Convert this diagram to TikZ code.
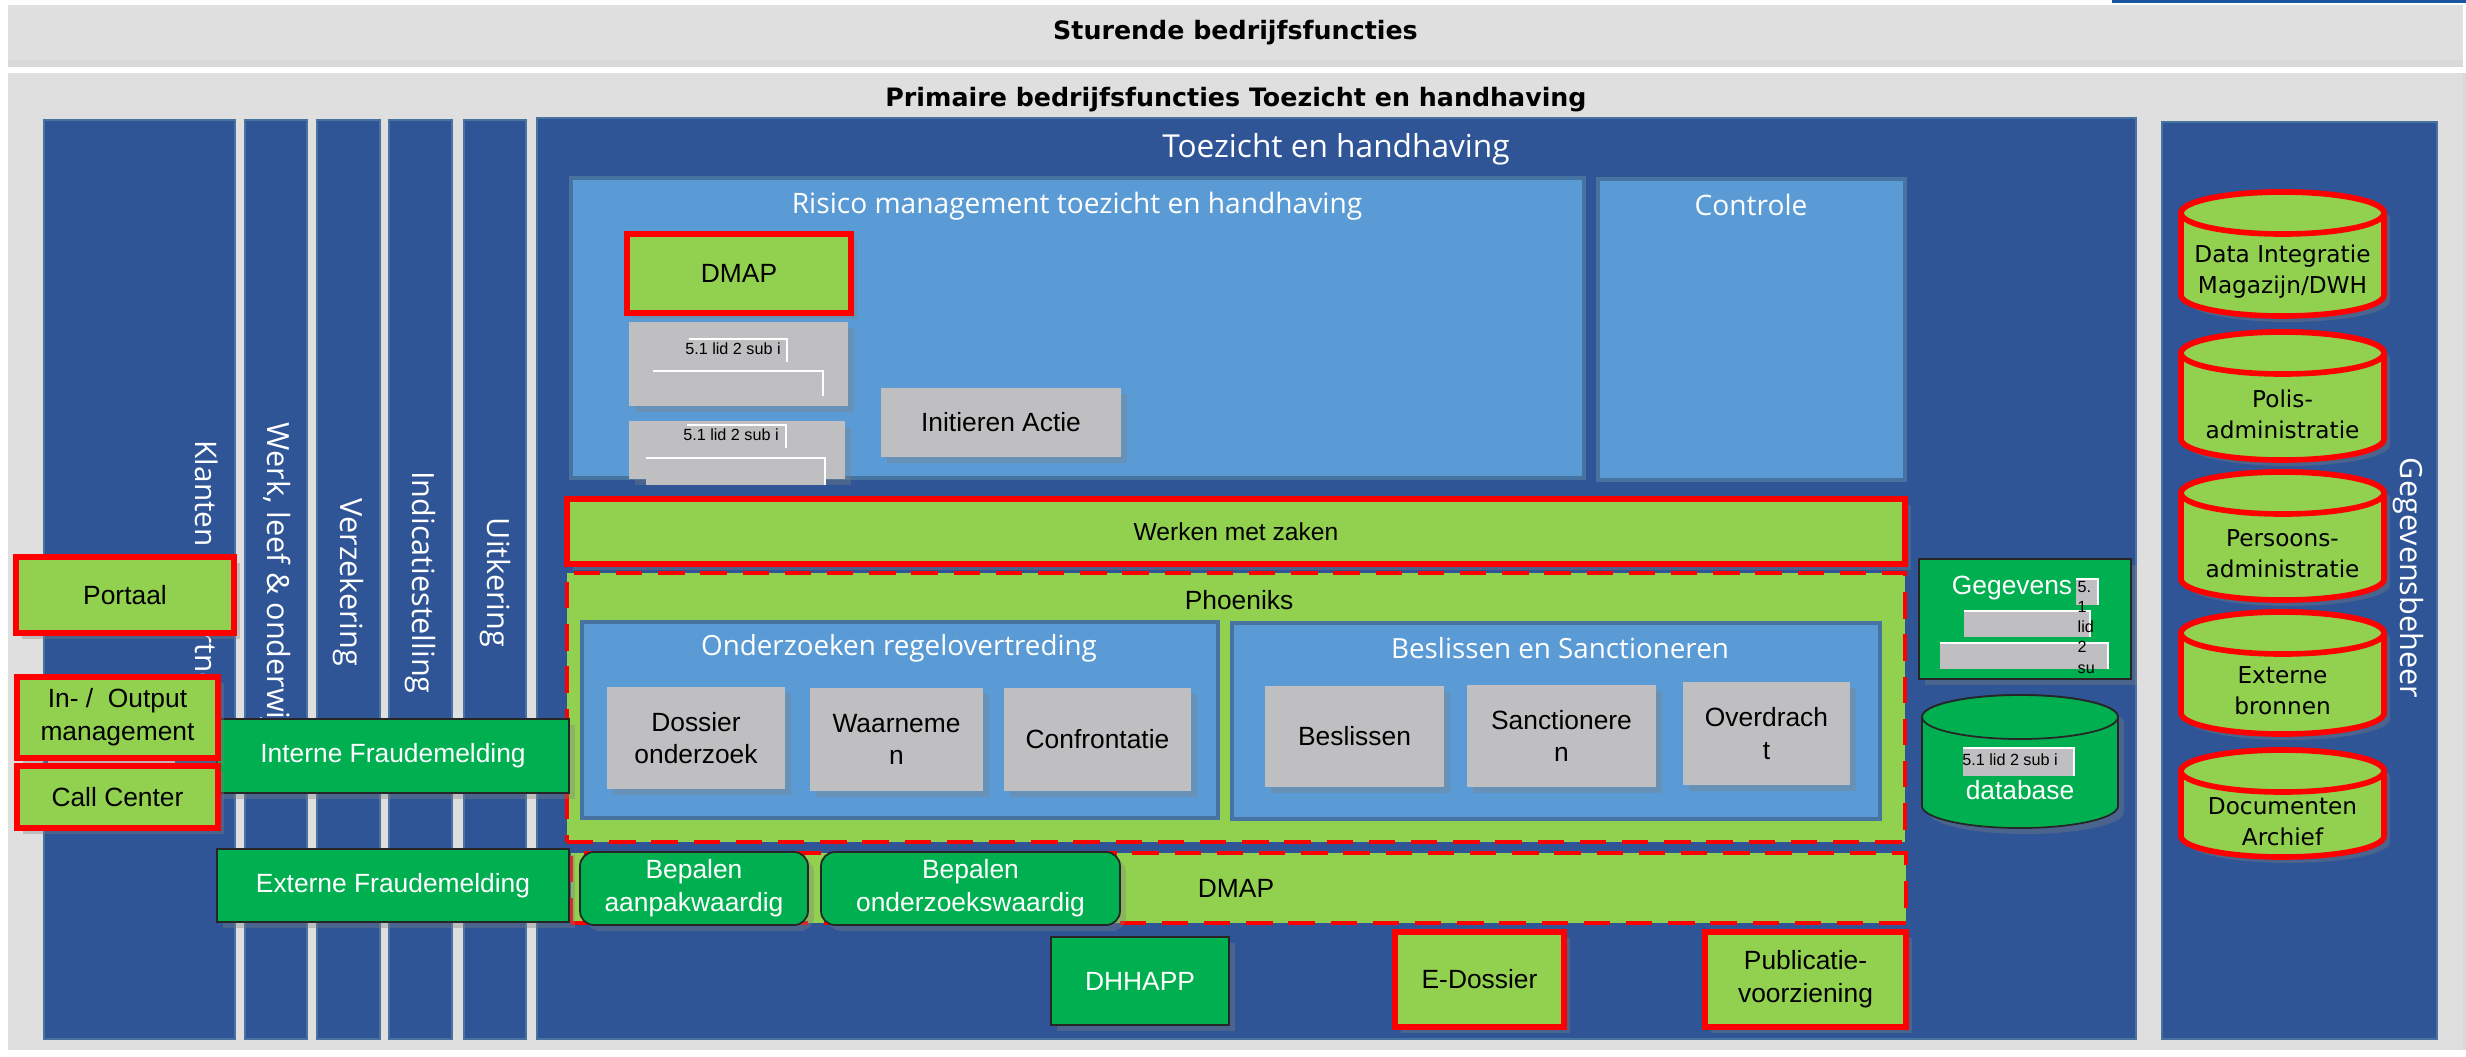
\documentclass[tikz,border=0pt]{standalone}
\usepackage{fontspec}
\setmainfont{Liberation Sans}
\newfontfamily\verdfont{DejaVu Sans}
\newfontfamily\lanefont{Open Sans}
\usepackage{tikz}
\usetikzlibrary{positioning,shapes,shapes.geometric,shadows}

\definecolor{panelgrey}{RGB}{223,223,223}
\definecolor{laneblue}{RGB}{47,85,151}
\definecolor{laneedge}{RGB}{70,115,160}
\definecolor{skyblue}{RGB}{91,155,213}
\definecolor{limegreen}{RGB}{146,208,80}
\definecolor{darkgreen}{RGB}{0,176,80}
\definecolor{boxgrey}{RGB}{191,191,193}
\definecolor{topblue}{RGB}{25,85,160}
\definecolor{pinkstrip}{RGB}{236,200,214}

\tikzset{
    cornerbox/.style n args={4}{minimum width={(#3-#1)*0.01cm}, minimum height={(#4-#2)*0.01cm},
        at={({(#1+#3)/2},{(#2+#4)/2})}},
    shd/.style={drop shadow={shadow xshift=1.7pt, shadow yshift=-1.7pt, opacity=0.35}},
    box/.style={inner sep=0pt, align=center, font=\fontsize{7.5}{9.3}\selectfont},
    redbox/.style={box, fill=limegreen, draw=red, line width=1.6pt, shd},
    dashbox/.style={box, fill=limegreen, draw=red, line width=1.4pt, dash pattern=on 7.5pt off 4.5pt},
    greybox/.style={box, fill=boxgrey, shd},
    greenbox/.style={box, fill=darkgreen, draw=black!85, line width=0.5pt, text=white, shd},
    lane/.style={inner sep=0pt, fill=laneblue, draw=laneedge, line width=0.7pt},
    subpanel/.style={inner sep=0pt, fill=skyblue, draw=laneedge, line width=0.9pt},
    lanelabel/.style={inner sep=0pt, text=white, rotate=-90, font=\lanefont\fontsize{8.7}{10}\selectfont},
    paneltitle/.style={inner sep=0pt, text=white, font=\lanefont\fontsize{8}{10}\selectfont},
    headtitle/.style={inner sep=0pt, font=\verdfont\bfseries\fontsize{7.2}{9}\selectfont},
    tinylabel/.style={inner sep=0pt, align=left, font=\fontsize{4.6}{5.7}\selectfont},
    storeline/.style={fill=limegreen, draw=red, line width=1.6pt},
    storetext/.style={inner sep=0pt, align=center, font=\verdfont\fontsize{6.6}{8.8}\selectfont},
}

\newcommand{\blankstrip}[4]{%
    \fill[boxgrey] (#1,#2) rectangle (#3,#4);
    \draw[white, line width=0.8pt] (#1,#2) -- (#3,#2) -- (#3,#4);
}

% name, x1, y1, x2, y2, ry, style, text
\newcommand{\datacyl}[8]{%
    \pgfmathsetmacro\cylrx{(#4-#2)/2}
    \pgfmathsetmacro\cylxc{(#2+#4)/2}
    \draw[#7, shd] (#2,#3+#6) -- (#2,#5-#6)
        arc[start angle=180, end angle=360, x radius=\cylrx*0.01cm, y radius=#6*0.01cm]
        -- (#4,#3+#6)
        arc[start angle=0, end angle=180, x radius=\cylrx*0.01cm, y radius=#6*0.01cm] -- cycle;
    \draw[#7] (\cylxc,#3+#6) ellipse[x radius=\cylrx*0.01cm, y radius=#6*0.01cm];
    \node[storetext] (#1) at (\cylxc,{(#3+2*#6+#5)/2-3}) {#8};
}

\begin{document}
\begin{tikzpicture}[x=0.01cm, y=-0.01cm]
    \useasboundingbox (0,0) rectangle (2466,1056);
    \fill[topblue] (2112,0) rectangle (2466,3);

    % sturende en primaire laag
    \node[inner sep=0pt, fill=panelgrey, drop shadow={shadow xshift=0pt, shadow yshift=-2pt, opacity=0.3},
        cornerbox={8}{5}{2463}{60}] (sturend) {};
    \node[headtitle] (sturendtitel) at (sturend.center) {Sturende bedrijfsfuncties};
    \node[inner sep=0pt, fill=panelgrey, drop shadow={shadow xshift=1pt, shadow yshift=0pt, opacity=0.3},
        cornerbox={8}{73}{2463}{1050}] (primair) {};
    \node[headtitle] (primairtitel) at (1236,100) {Primaire bedrijfsfuncties Toezicht en handhaving};

    % kolommen
    \node[lane, cornerbox={44}{120}{235}{1039}] (klanten) {};
    \node[lanelabel, anchor=west, font=\lanefont\fontsize{8.45}{10}\selectfont] (klantenlbl) at (203,440) {Klanten en partners};
    \foreach \xa/\xb/\lbl [count=\n] in {245/307/{Werk, leef \& onderwijs},317/380/Verzekering,389/452/Indicatiestelling,464/526/Uitkering} {
        \node[lane, cornerbox={\xa}{120}{\xb}{1039}] (lane\n) {};
        \node[lanelabel] (lanelbl\n) at ([yshift=-0.03cm]lane\n.center) {\lbl};
    }
    \node[lane, cornerbox={2162}{122}{2437}{1039}] (beheer) {};
    \node[lanelabel] (beheerlbl) at (2408,578) {Gegevensbeheer};

    % toezicht en handhaving
    \node[lane, cornerbox={537}{118}{2136}{1039}] (toezicht) {};
    \node[paneltitle, font=\lanefont\fontsize{9}{11}\selectfont] (toezichttitel) at (1336,149) {Toezicht en handhaving};
    \node[subpanel, cornerbox={571}{178}{1584}{478}] (risico) {};
    \node[paneltitle] (risicotitel) at (1077,206) {Risico management toezicht en handhaving};
    \node[subpanel, cornerbox={1598}{179}{1905}{480}] (controle) {};
    \node[paneltitle] (controletitel) at (1751,205) {Controle};

    \node[redbox, cornerbox={627}{234}{851}{313}] (dmaprisico) {DMAP};
    \node[greybox, cornerbox={629}{322}{848}{406}] (wetA) {};
    \blankstrip{689}{339}{787}{362}
    \node[tinylabel] (wetAlbl) at (733,349) {5.1 lid 2 sub i};
    \blankstrip{653}{371}{823}{396}
    \node[greybox, cornerbox={629}{421}{845}{479}] (wetB) {};
    \blankstrip{646}{458}{825}{485}
    \blankstrip{687}{425}{786}{448}
    \node[tinylabel] (wetBlbl) at (731,435) {5.1 lid 2 sub i};
    \node[greybox, cornerbox={881}{388}{1121}{457}] (initieren) {Initieren Actie};

    \node[redbox, font=\fontsize{7}{8.5}\selectfont, cornerbox={567}{499}{1905}{564}] (zaken) {Werken met zaken};

    % phoeniks
    \node[dashbox, cornerbox={567}{573}{1905}{842}] (phoeniks) {};
    \node[box] (phoenikstitel) at (1239,600) {Phoeniks};
    \node[subpanel, cornerbox={582}{622}{1218}{818}] (onderzoeken) {};
    \node[paneltitle, font=\lanefont\fontsize{7.9}{9.5}\selectfont] (onderzoekentitel) at (899,648) {Onderzoeken regelovertreding};
    \node[greybox, cornerbox={607}{687}{785}{789}] (dossier) {Dossier\\onderzoek};
    \node[greybox, cornerbox={810}{688}{983}{791}] (waarnemen) {Waarneme\\n};
    \node[greybox, cornerbox={1004}{688}{1191}{791}] (confrontatie) {Confrontatie};
    \node[subpanel, cornerbox={1232}{623}{1880}{819}] (beslissen) {};
    \node[paneltitle, font=\lanefont\fontsize{7.9}{9.5}\selectfont] (beslissentitel) at (1560,648) {Beslissen en Sanctioneren};
    \node[greybox, cornerbox={1265}{686}{1444}{787}] (besluit) {Beslissen};
    \node[greybox, cornerbox={1467}{685}{1656}{787}] (sanctie) {Sanctionere\\n};
    \node[greybox, cornerbox={1683}{682}{1850}{785}] (overdracht) {Overdrach\\t};

    % dmap rij
    \node[dashbox, cornerbox={571}{853}{1906}{923}] (dmaprij) {};
    \node[box] (dmaprijtitel) at (1236,888) {DMAP};
    \node[greenbox, rounded corners=4pt, cornerbox={580}{852}{808}{925}] (aanpak) {Bepalen\\aanpakwaardig};
    \node[greenbox, rounded corners=4pt, cornerbox={821}{852}{1120}{925}] (onderzoekswaardig) {Bepalen\\onderzoekswaardig};
    \node[greenbox, cornerbox={1051}{937}{1229}{1025}] (dhhapp) {DHHAPP};
    \node[redbox, cornerbox={1395}{932}{1564}{1027}] (edossier) {E-Dossier};
    \node[redbox, cornerbox={1705}{932}{1906}{1027}] (publicatie) {Publicatie-\\voorziening};

    % gegevens
    \node[greenbox, cornerbox={1919}{559}{2131}{679}] (gegevens) {};
    \node[box, text=white] (gegevenstitel) at (2012,588) {Gegevens};
    \blankstrip{2076}{579}{2098}{605}
    \blankstrip{1964}{611}{2090}{637}
    \blankstrip{1940}{643}{2108}{669}
    \node[tinylabel, anchor=north west] (gegevenswet) at (2077,581) {5.\\1\\lid\\2\\su};
    \datacyl{database}{1922}{695}{2118}{828}{22}{fill=darkgreen, draw=black!85, line width=0.5pt}{}
    \blankstrip{1963}{748}{2074}{776}
    \node[tinylabel] (databasewet) at (2010,760) {5.1 lid 2 sub i};
    \node[box, text=white] (databasetitel) at (2020,790) {database};

    \foreach \ya/\yb/\lbl [count=\n] in {192/316/{Data Integratie\\Magazijn/DWH},332/460/{Polis-\\administratie},472/600/{Persoons-\\administratie},612/734/{Externe\\bronnen},750/857/{Documenten\\Archief}} {
        \datacyl{bron\n}{2181}{\ya}{2384}{\yb}{21}{storeline}{\lbl}
    }

    % kanalen
    \node[redbox, cornerbox={16}{557}{234}{633}] (portaal) {Portaal};
    \node[greenbox, cornerbox={217}{719}{569}{793}] (intern) {Interne Fraudemelding};
    \node[greenbox, cornerbox={217}{849}{569}{922}] (extern) {Externe Fraudemelding};
    \fill[pinkstrip] (48,758) rectangle (175,768);
    \node[redbox, cornerbox={17}{677}{218}{758}] (inoutput) {In- / \ Output\\management};
    \node[redbox, cornerbox={17}{766}{218}{828}] (callcenter) {Call Center};
\end{tikzpicture}
\end{document}
